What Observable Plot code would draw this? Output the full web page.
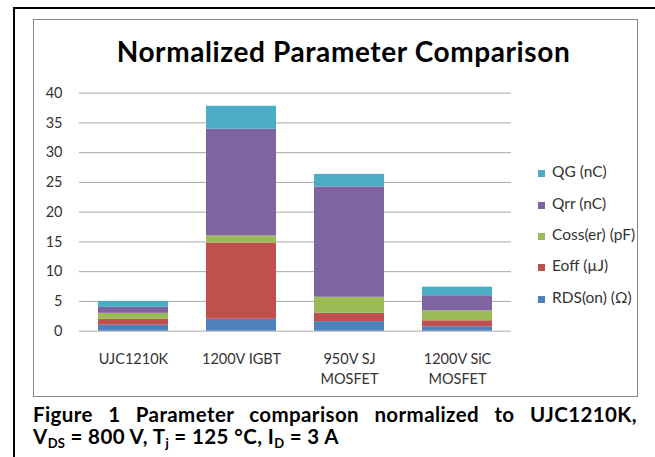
<!DOCTYPE html>
<html>
<head>
<meta charset="utf-8">
<script src="https://cdn.jsdelivr.net/npm/d3@7"></script>
<script src="https://cdn.jsdelivr.net/npm/@observablehq/plot@0.6"></script>
<style>
  html, body { margin: 0; padding: 0; background: #fff; }
  #wrap { position: relative; width: 655px; height: 457px; overflow: hidden; font-family: Lato, "Open Sans", sans-serif; }
  #outer { position: absolute; left: 13px; top: 7px; width: 700px; height: 500px; border-left: 2px solid #000; border-top: 2px solid #000; }
  #frame { position: absolute; left: 33px; top: 19px; width: 603px; height: 376px; border: 1px solid #878787; }
  #chart { position: absolute; left: 0; top: 0; }
  #title { position: absolute; left: 0; width: 687px; top: 36.9px; text-align: center; font-weight: 700; font-size: 28px; letter-spacing: 0.6px; line-height: 1; color: #000; white-space: nowrap; }
  #legend { position: absolute; left: 530px; top: 150px; width: 107px; height: 170px; overflow: hidden; }
  .li { position: absolute; left: 0; white-space: nowrap; font-size: 15.5px; line-height: 1; color: #333; }
  .sw { display: inline-block; width: 7px; height: 7px; margin-left: 8px; margin-right: 7px; vertical-align: 0px; }
  .cap { position: absolute; left: 33px; width: 604px; font-weight: 700; font-size: 20.5px; letter-spacing: 0.4px; line-height: 1; color: #000; white-space: nowrap; }
  #cap1 { text-align: justify; text-align-last: justify; white-space: normal; }
  .cap sub { font-size: 13px; vertical-align: -4px; line-height: 0; letter-spacing: 0.2px; }
</style>
</head>
<body>
<div id="wrap">
  <div id="outer"></div>
  <div id="frame"></div>
  <div id="title">Normalized Parameter Comparison</div>
  <div id="chart"></div>
  <div id="legend"></div>
  <div class="cap" id="cap1">Figure 1 Parameter comparison normalized to UJC1210K,</div>
  <div class="cap" id="cap2">V<sub>DS</sub> = 800 V, T<sub>j</sub> = 125 °C, I<sub>D</sub> = 3 A</div>
</div>
<script>
// ---- data ----
const categories = ["UJC1210K", "1200V IGBT", "950V SJ\nMOSFET", "1200V SiC\nMOSFET"];
const seriesNames = ["RDS(on) (Ω)", "Eoff (µJ)", "Coss(er) (pF)", "Qrr (nC)", "QG (nC)"];
const rdsOn = [1, 2.0, 1.6, 0.75];
const eoff = [1, 12.8, 1.4, 1.0];
const cossEr = [1, 1.2, 2.7, 1.65];
const qrr = [1, 17.95, 18.55, 2.55];
const qg = [1, 3.85, 2.1, 1.45];
const seriesColors = ["#4F81BD", "#C0504D", "#9BBB59", "#8064A2", "#4BACC6"];
const yTicks = [0, 5, 10, 15, 20, 25, 30, 35, 40];

const seriesValues = [rdsOn, eoff, cossEr, qrr, qg];
const rows = [];
seriesNames.forEach((s, si) => {
  categories.forEach((c, ci) => rows.push({category: c, series: s, value: seriesValues[si][ci]}));
});

const chart = Plot.plot({
  width: 655,
  height: 457,
  marginLeft: 79,
  marginRight: 144,
  marginTop: 92.67,
  marginBottom: 126.33,
  style: {background: "transparent", fontFamily: "Lato, 'Open Sans', sans-serif", fontSize: "14.5px", color: "#333"},
  x: {domain: categories, paddingInner: 0.35, paddingOuter: 0.175, label: null},
  y: {domain: [0, 40], label: null},
  color: {domain: seriesNames, range: seriesColors},
  marks: [
    Plot.gridY(yTicks, {stroke: "#a8a8a8", strokeOpacity: 1, strokeWidth: 1}),
    Plot.barY(rows, Plot.stackY({order: seriesNames}, {x: "category", y: "value", fill: "series", z: "series"})),
    Plot.axisY(yTicks, {tickSize: 0, tickPadding: 17, label: null, line: true, stroke: "#a8a8a8", fill: "#333"}),
    Plot.axisX({tickSize: 0, tickPadding: 18.7, label: null, lineHeight: 1.38, fill: "#333"})
  ]
});
document.getElementById("chart").appendChild(chart);

// legend (top to bottom: reverse stack order)
const legend = document.getElementById("legend");
seriesNames.slice().reverse().forEach((name, i) => {
  const idx = seriesNames.indexOf(name);
  const div = document.createElement("div");
  div.className = "li";
  div.style.top = (14.3 + i * 31.35) + "px";
  const sw = document.createElement("span");
  sw.className = "sw";
  sw.style.background = seriesColors[idx];
  div.appendChild(sw);
  div.appendChild(document.createTextNode(name));
  legend.appendChild(div);
});

// caption positions (baseline-based)
document.getElementById("cap1").style.top = (422.5 - 0.887 * 20.5) + "px";
document.getElementById("cap2").style.top = (444.5 - 0.887 * 20.5) + "px";
</script>
</body>
</html>
